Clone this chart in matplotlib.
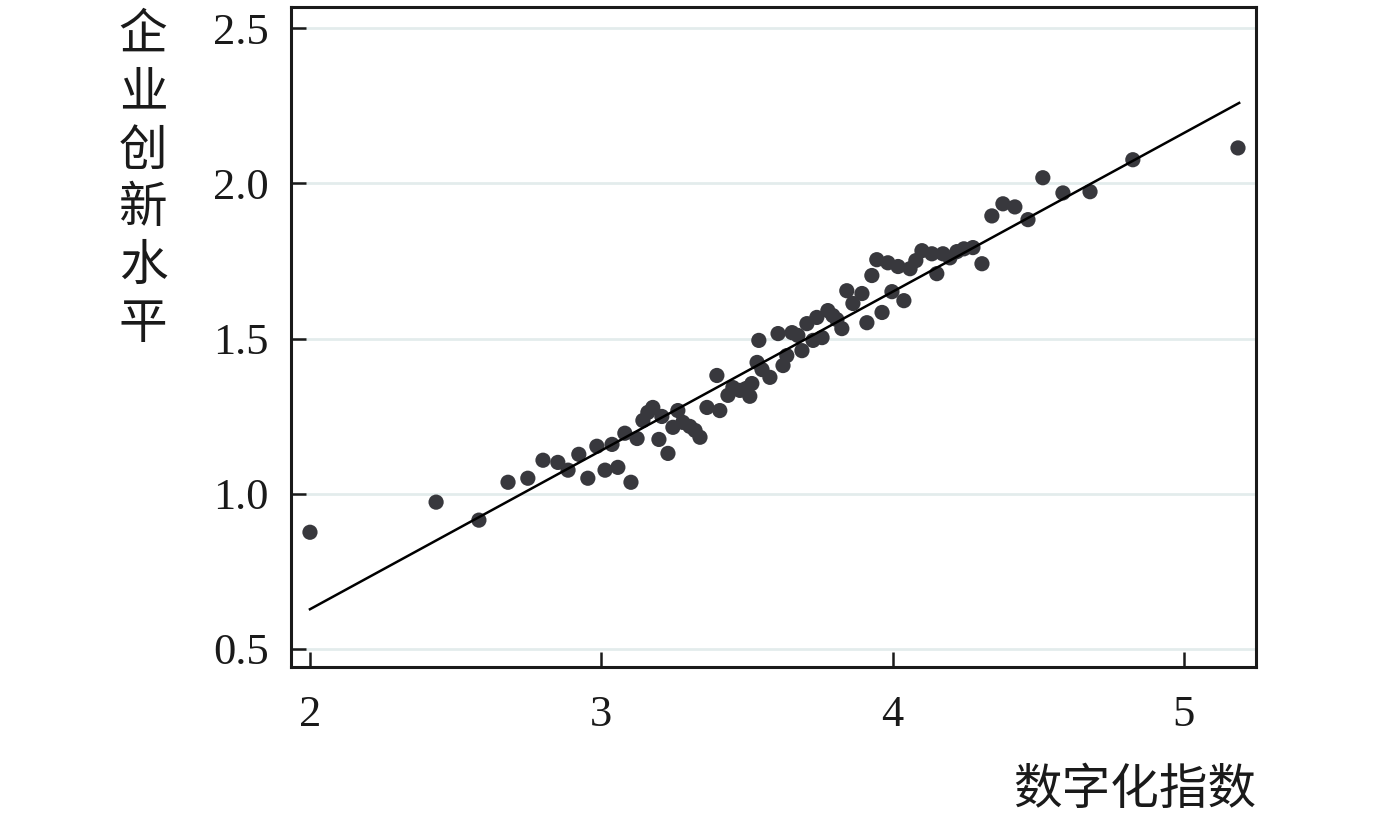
import numpy as np
import matplotlib
matplotlib.use('Agg')
import matplotlib.pyplot as plt

plt.rcParams['font.family'] = ['Liberation Serif', 'Noto Sans CJK SC', 'DejaVu Sans']

# 散点数据
digital_index = [
    2.000, 2.433, 2.580, 2.680, 2.748, 2.800, 2.851, 2.886, 2.923, 2.954,
    2.985, 3.013, 3.037, 3.057, 3.081, 3.102, 3.123, 3.143, 3.160, 3.177,
    3.198, 3.208, 3.229, 3.246, 3.263, 3.280, 3.304, 3.322, 3.339, 3.363,
    3.397, 3.407, 3.435, 3.452, 3.476, 3.497, 3.510, 3.517, 3.535, 3.541,
    3.552, 3.579, 3.607, 3.624, 3.637, 3.655, 3.675, 3.689, 3.706, 3.727,
    3.740, 3.758, 3.778, 3.795, 3.809, 3.826, 3.843, 3.864, 3.895, 3.912,
    3.929, 3.946, 3.964, 3.984, 3.998, 4.019, 4.039, 4.060, 4.080, 4.101,
    4.135, 4.152, 4.173, 4.197, 4.221, 4.245, 4.276, 4.307, 4.341, 4.379,
    4.420, 4.465, 4.516, 4.585, 4.678, 4.825, 5.186,
]
innovation = [
    0.876, 0.973, 0.915, 1.037, 1.050, 1.108, 1.101, 1.076, 1.127, 1.050,
    1.153, 1.076, 1.159, 1.085, 1.195, 1.037, 1.178, 1.236, 1.262, 1.278,
    1.175, 1.249, 1.130, 1.214, 1.268, 1.230, 1.217, 1.204, 1.182, 1.278,
    1.381, 1.268, 1.317, 1.342, 1.333, 1.339, 1.314, 1.355, 1.423, 1.494,
    1.400, 1.375, 1.516, 1.413, 1.445, 1.519, 1.510, 1.461, 1.548, 1.494,
    1.568, 1.503, 1.590, 1.574, 1.561, 1.532, 1.654, 1.613, 1.645, 1.551,
    1.703, 1.754, 1.584, 1.744, 1.651, 1.732, 1.622, 1.725, 1.751, 1.783,
    1.773, 1.709, 1.773, 1.760, 1.780, 1.789, 1.793, 1.741, 1.895, 1.934,
    1.924, 1.883, 2.018, 1.969, 1.973, 2.076, 2.114,
]

# 拟合线端点
fit_x = [2.0, 5.19]
fit_y = [0.628, 2.259]

x_ticks = [2, 3, 4, 5]
y_ticks = [0.5, 1.0, 1.5, 2.0, 2.5]
y_tick_labels = ['0.5', '1.0', '1.5', '2.0', '2.5']

fig = plt.figure(figsize=(13.78, 8.13), dpi=100)
ax = fig.add_axes([0.2112, 0.1796, 0.7003, 0.8118])

ax.scatter(digital_index, innovation, s=120, color='#38383d', edgecolors='none', zorder=3)
ax.plot(fit_x, fit_y, color='black', linewidth=1.8, zorder=4)

ax.set_xlim(1.935, 5.248)
ax.set_ylim(0.442, 2.568)
ax.set_xticks(x_ticks)
ax.set_yticks(y_ticks)
ax.set_yticklabels(y_tick_labels)

# 网格线
ax.grid(True, axis='y', color='#e3ecec', linewidth=2, zorder=0)
ax.set_axisbelow(True)

for sp in ax.spines.values():
    sp.set_linewidth(2.2)
    sp.set_color('#1a1a1a')

ax.tick_params(axis='both', direction='in', length=11, width=1.8, color='#1a1a1a',
               labelsize=32, labelcolor='#1a1a1a')
ax.tick_params(axis='x', pad=20)
ax.tick_params(axis='y', pad=16)

# 坐标轴标题
ylabel = '企业创新水平'
fig.text(143 / 1378, 1 - 10 / 813, '\n'.join(ylabel), ha='center', va='top',
         fontsize=35, family=['Noto Sans CJK SC', 'DejaVu Sans'],
         linespacing=1.22, color='#1a1a1a')
fig.text(1256 / 1378, 1 - 790 / 813, '数字化指数', ha='right', va='center',
         fontsize=35, family=['Noto Sans CJK SC', 'DejaVu Sans'], color='#1a1a1a')

plt.savefig('out.png', dpi=100)
